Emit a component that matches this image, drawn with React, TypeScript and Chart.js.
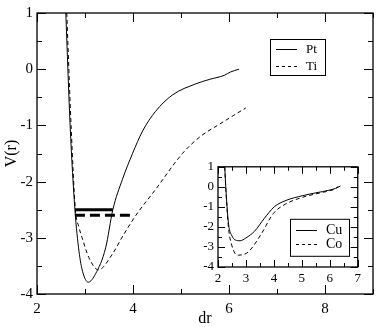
import React, { useEffect, useRef } from "react";
import { Chart, registerables } from "chart.js";
Chart.register(...registerables);

// ---- main plot data ----
const ptR = [2.6, 2.69, 2.79, 2.875, 2.95, 3.07, 3.22, 3.43, 3.58, 3.78, 3.99, 4.2, 4.47, 4.82, 5.31, 5.6, 5.9, 6.03, 6.21];
const ptV = [1.0, -1.0, -2.5, -3.24, -3.6, -3.79, -3.64, -3.18, -2.5, -1.96, -1.5, -1.1, -0.75, -0.46, -0.26, -0.18, -0.11, -0.05, 0.0];
const tiR = [2.62, 2.71, 2.8, 2.87, 2.94, 3.08, 3.28, 3.57, 3.8, 4.06, 4.47, 5.03, 5.4, 5.8, 6.1, 6.35];
const tiV = [1.0, -1.0, -2.5, -2.8, -3.0, -3.35, -3.57, -3.29, -2.95, -2.6, -2.14, -1.5, -1.2, -0.98, -0.82, -0.69];
const ptLevelR = [2.79, 3.58];
const ptLevelV = [-2.5, -2.5];
const tiLevelR = [2.79, 3.95];
const tiLevelV = [-2.6, -2.6];

// ---- inset data ----
const cuR = [2.24, 2.3, 2.38, 2.5, 2.62, 2.79, 3.0, 3.31, 3.66, 4.01, 4.43, 5.03, 5.5, 5.97, 6.2, 6.38];
const cuV = [1.0, -0.5, -1.88, -2.45, -2.65, -2.69, -2.55, -2.21, -1.57, -1.0, -0.68, -0.44, -0.3, -0.17, -0.08, 0.04];
const coR = [2.24, 2.3, 2.38, 2.48, 2.6, 2.73, 3.08, 3.54, 3.98, 4.43, 5.03, 5.5, 5.97, 6.2, 6.3];
const coV = [1.0, -0.6, -2.1, -2.85, -3.3, -3.41, -3.25, -2.37, -1.33, -0.85, -0.52, -0.35, -0.2, -0.1, 0.02];

// ---- ticks ----
const mainXTicks = [2, 4, 6, 8];
const mainXMinor = [3, 5, 7, 9];
const mainYTicks = [-4, -3, -2, -1, 0, 1];
const mainYMinor = [-3.5, -2.5, -1.5, -0.5, 0.5];
const insetXTicks = [2, 3, 4, 5, 6, 7];
const insetXMinor = [2.5, 3.5, 4.5, 5.5, 6.5];
const insetYTicks = [-4, -3, -2, -1, 0, 1];
const insetYMinor = [-3.5, -2.5, -1.5, -0.5, 0.5];

const FONT = '"Liberation Serif", "DejaVu Serif", serif';

const pts = (xs: number[], ys: number[]) => xs.map((x, i) => ({ x, y: ys[i] }));

const framePlugin = {
  id: "frame",
  beforeDraw(chart: any, _a: any, opts: any) {
    if (!opts.fillWhite) return;
    const { ctx, chartArea: a } = chart;
    ctx.save();
    ctx.fillStyle = "#fff";
    ctx.fillRect(a.left, a.top, a.right - a.left, a.bottom - a.top);
    ctx.restore();
  },
  afterDraw(chart: any, _a: any, opts: any) {
    const { ctx, chartArea: a, scales } = chart;
    ctx.save();
    ctx.strokeStyle = "#000";
    ctx.lineWidth = 1.3;
    ctx.strokeRect(a.left, a.top, a.right - a.left, a.bottom - a.top);
    ctx.lineWidth = 1;
    const xt = (vals: number[], len: number) => {
      vals.forEach((v) => {
        const p = Math.round(scales.x.getPixelForValue(v)) + 0.5;
        ctx.beginPath();
        ctx.moveTo(p, a.bottom);
        ctx.lineTo(p, a.bottom - len);
        ctx.moveTo(p, a.top);
        ctx.lineTo(p, a.top + len);
        ctx.stroke();
      });
    };
    const yt = (vals: number[], len: number) => {
      vals.forEach((v) => {
        const p = Math.round(scales.y.getPixelForValue(v)) + 0.5;
        ctx.beginPath();
        ctx.moveTo(a.left, p);
        ctx.lineTo(a.left + len, p);
        ctx.moveTo(a.right, p);
        ctx.lineTo(a.right - len, p);
        ctx.stroke();
      });
    };
    xt(opts.xMajor, opts.major);
    xt(opts.xMinor, opts.minor);
    yt(opts.yMajor, opts.major);
    yt(opts.yMinor, opts.minor);
    ctx.restore();
  },
};

const boxLegendPlugin = {
  id: "boxLegend",
  afterDraw(chart: any, _a: any, opts: any) {
    const { ctx, chartArea: a } = chart;
    const x0 = a.left + opts.dx;
    const y0 = a.top + opts.dy;
    ctx.save();
    ctx.fillStyle = "#fff";
    ctx.fillRect(x0, y0, opts.w, opts.h);
    ctx.strokeStyle = "#000";
    ctx.lineWidth = 1;
    ctx.strokeRect(x0 + 0.5, y0 + 0.5, opts.w, opts.h);
    ctx.font = `${opts.size}px ${FONT}`;
    ctx.textBaseline = "middle";
    ctx.fillStyle = "#000";
    let row = 0;
    chart.data.datasets.forEach((ds: any) => {
      if (!ds.label) return;
      const cy = Math.round(y0 + opts.firstRow + row * opts.rowH) + 0.5;
      ctx.beginPath();
      ctx.setLineDash(ds.legendDash || []);
      ctx.lineWidth = 1;
      ctx.moveTo(x0 + opts.lineX, cy);
      ctx.lineTo(x0 + opts.lineX + opts.lineLen, cy);
      ctx.stroke();
      ctx.setLineDash([]);
      ctx.fillText(ds.label, x0 + opts.textX, cy);
      row++;
    });
    ctx.restore();
  },
};

function axisCfg(min: number, max: number, ticks: number[], size: number, pad: number, fit: number, horizontal: boolean, title?: any) {
  return {
    type: "linear",
    min,
    max,
    grid: { display: false, drawTicks: false },
    border: { display: false },
    afterBuildTicks: (s: any) => {
      s.ticks = ticks.map((v) => ({ value: v }));
    },
    afterFit: (s: any) => {
      if (horizontal) s.height = fit;
      else s.width = fit;
    },
    ticks: {
      color: "#000",
      font: { family: FONT, size },
      padding: pad,
      maxRotation: 0,
      autoSkip: false,
      callback: (v: any) => String(v),
    },
    title: title || { display: false },
  };
}

export default function App() {
  const mainRef = useRef<HTMLCanvasElement>(null);
  const insetRef = useRef<HTMLCanvasElement>(null);

  useEffect(() => {
    const main = new Chart(mainRef.current as HTMLCanvasElement, {
      type: "line",
      data: {
        datasets: [
          { label: "Pt", data: pts(ptR, ptV), borderColor: "#000", borderWidth: 1, pointRadius: 0, cubicInterpolationMode: "monotone", legendDash: [] } as any,
          { label: "Ti", data: pts(tiR, tiV), borderColor: "#000", borderWidth: 1, borderDash: [4, 3], pointRadius: 0, cubicInterpolationMode: "monotone", legendDash: [3, 3] } as any,
          { data: pts(ptLevelR, ptLevelV), borderColor: "#000", borderWidth: 3, pointRadius: 0 } as any,
          { data: pts(tiLevelR, tiLevelV), borderColor: "#000", borderWidth: 3, borderDash: [10, 5], pointRadius: 0 } as any,
        ],
      },
      options: {
        animation: false,
        responsive: false,
        devicePixelRatio: 1,
        layout: { padding: { left: 0, top: 6, right: 3, bottom: 0 } },
        scales: {
          x: axisCfg(2, 9, mainXTicks, 15, 6, 33, true, {
            display: true, text: "dr", color: "#000", font: { family: FONT, size: 16, lineHeight: 1 }, padding: { top: 0, bottom: 0 },
          }),
          y: axisCfg(-4, 1, mainYTicks, 15, 4, 37, false, {
            display: true, text: "V(r)", color: "#000", font: { family: FONT, size: 16, lineHeight: 1 }, padding: { top: 4, bottom: 0 },
          }),
        } as any,
        plugins: {
          legend: { display: false },
          tooltip: { enabled: false },
          frame: { xMajor: mainXTicks, xMinor: mainXMinor, yMajor: mainYTicks, yMinor: mainYMinor, major: 9, minor: 5 },
          boxLegend: { dx: 233, dy: 26, w: 55, h: 36, firstRow: 10, rowH: 17, lineX: 6, lineLen: 21, textX: 36, size: 13 },
        } as any,
      },
      plugins: [framePlugin, boxLegendPlugin],
    });

    const inset = new Chart(insetRef.current as HTMLCanvasElement, {
      type: "line",
      data: {
        datasets: [
          { label: "Cu", data: pts(cuR, cuV), borderColor: "#000", borderWidth: 1, pointRadius: 0, cubicInterpolationMode: "monotone", legendDash: [] } as any,
          { label: "Co", data: pts(coR, coV), borderColor: "#000", borderWidth: 1, borderDash: [4, 3], pointRadius: 0, cubicInterpolationMode: "monotone", legendDash: [3, 3] } as any,
        ],
      },
      options: {
        animation: false,
        responsive: false,
        devicePixelRatio: 1,
        layout: { padding: { left: 0, top: 8, right: 2, bottom: 0 } },
        scales: {
          x: axisCfg(2, 7, insetXTicks, 13, 4, 21, true),
          y: axisCfg(-4, 1, insetYTicks, 13, 4, 24, false),
        } as any,
        plugins: {
          legend: { display: false },
          tooltip: { enabled: false },
          frame: { xMajor: insetXTicks, xMinor: insetXMinor, yMajor: insetYTicks, yMinor: insetYMinor, major: 7, minor: 4, fillWhite: true },
          boxLegend: { dx: 72, dy: 52, w: 59, h: 37, firstRow: 11, rowH: 14, lineX: 6, lineLen: 21, textX: 36, size: 14 },
        } as any,
      },
      plugins: [framePlugin, boxLegendPlugin],
    });

    return () => {
      main.destroy();
      inset.destroy();
    };
  }, []);

  return (
    <div style={{ position: "absolute", left: 0, top: 0, width: 376, height: 327, background: "#fff" }}>
      <canvas ref={mainRef} width={376} height={327} style={{ position: "absolute", left: 0, top: 0 }} />
      <canvas ref={insetRef} width={171} height={133} style={{ position: "absolute", left: 194, top: 155 }} />
    </div>
  );
}
